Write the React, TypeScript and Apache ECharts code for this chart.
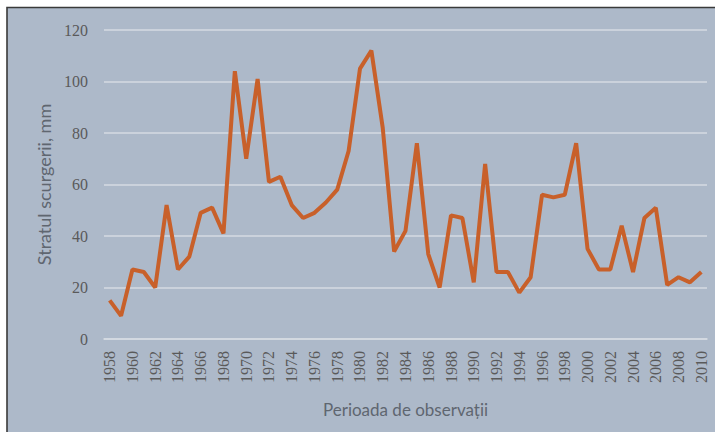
import React, { useEffect, useRef } from "react";
import * as echarts from "echarts";

const years: string[] = [];
for (let y = 1958; y <= 2010; y++) years.push(String(y));

const runoff = [
  15, 9, 27, 26, 20, 52, 27, 32, 49, 51, 41, 104, 70, 101, 61, 63, 52, 47,
  49, 53, 58, 73, 105, 112, 82, 34, 42, 76, 33, 20, 48, 47, 22, 68, 26, 26, 18,
  24, 56, 55, 56, 76, 35, 27, 27, 44, 26, 47, 51, 21, 24, 22, 26,
];

const yTitle = "Stratul scurgerii, mm";
const xTitle = "Perioada de observații";

const SERIF = "'Liberation Serif', 'DejaVu Serif', serif";

export default function App() {
  const ref = useRef<HTMLDivElement>(null);
  useEffect(() => {
    if (!ref.current) return;
    const chart = echarts.init(ref.current, null, { renderer: "svg" });
    chart.setOption({
      animation: false,
      backgroundColor: "#ffffff",
      graphic: [
        {
          type: "rect",
          z: -10,
          shape: { x: 7, y: 7.5, width: 720, height: 440 },
          style: { fill: "#ADB9C9", stroke: "#3a3a3a", lineWidth: 1.6 },
          silent: true,
        },
      ],
      grid: { left: 104, right: 8, top: 30, bottom: 93 },
      xAxis: {
        type: "category",
        data: years,
        boundaryGap: true,
        name: xTitle,
        nameLocation: "middle",
        nameGap: 62,
        nameTextStyle: { fontFamily: "Lato", fontSize: 17, color: "#5f6670" },
        axisLine: { show: true, lineStyle: { color: "#D6DBE2", width: 1.5 } },
        axisTick: { show: false },
        axisLabel: {
          interval: 1,
          rotate: 90,
          margin: 12,
          fontFamily: SERIF,
          fontSize: 16,
          color: "#5a5a5a",
        },
      },
      yAxis: {
        type: "value",
        min: 0,
        max: 120,
        interval: 20,
        name: yTitle,
        nameLocation: "middle",
        nameGap: 50,
        nameTextStyle: { fontFamily: "Lato", fontSize: 18, color: "#5f6670" },
        axisLine: { show: false },
        axisTick: { show: false },
        axisLabel: {
          margin: 16,
          fontFamily: SERIF,
          fontSize: 16,
          color: "#5a5a5a",
        },
        splitLine: { lineStyle: { color: "#D6DBE2", width: 1.5 } },
      },
      series: [
        {
          type: "line",
          data: runoff,
          symbol: "none",
          lineStyle: { color: "#C8602A", width: 4 },
          itemStyle: { color: "#C8602A" },
        },
      ],
    });
    return () => chart.dispose();
  }, []);
  return (
    <div
      ref={ref}
      style={{ position: "absolute", left: 0, top: 0, width: 715, height: 432 }}
    />
  );
}
